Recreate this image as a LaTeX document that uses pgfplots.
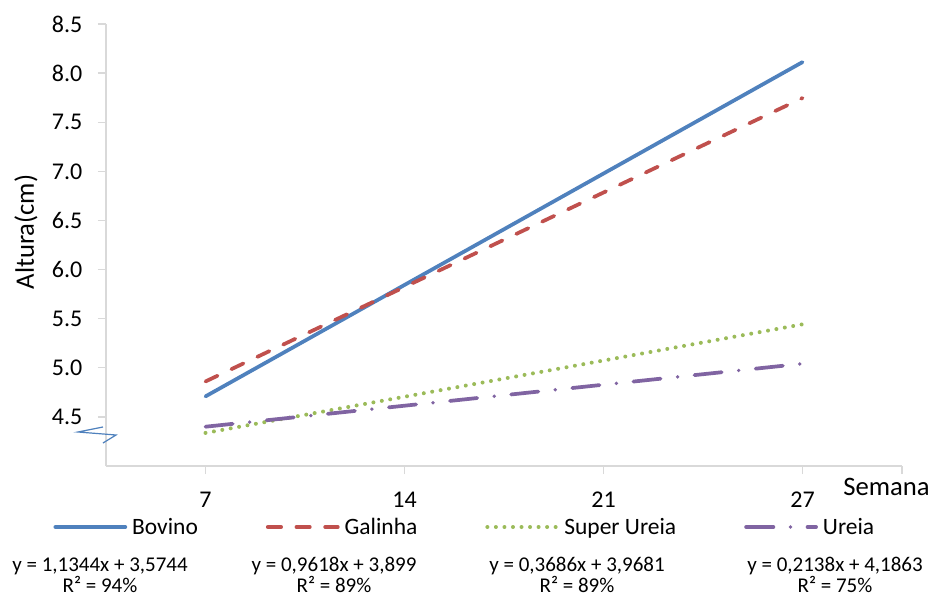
\documentclass[border=0pt]{standalone}
\usepackage{fontspec}
\setmainfont{Carlito}
\usepackage{pgfplots}
\pgfplotsset{compat=1.18}
\definecolor{cBov}{HTML}{4F81BD}
\definecolor{cGal}{HTML}{C0504D}
\definecolor{cSup}{HTML}{9BBB59}
\definecolor{cUre}{HTML}{8064A2}
\definecolor{cAx}{HTML}{D9D9D9}
\begin{document}
\begin{tikzpicture}[font=\fontsize{15.75}{19}\selectfont]
\begin{axis}[
  at={(79.5pt,-349.5pt)}, anchor=south west,
  scale only axis, width=597pt, height=331.5pt,
  xmin=0.5, xmax=4.5, ymin=4.0, ymax=8.5,
  axis x line=bottom, axis y line=left,
  axis line style={-, draw=cAx, line width=1pt},
  tick style={draw=cAx, line width=1pt},
  tick align=outside, major tick length=6pt,
  xtick={1,2,3,4}, xticklabels={7,14,21,27},
  extra x ticks={4.5}, extra x tick labels={},
  ytick={4.5,5,5.5,6,6.5,7,7.5,8,8.5},
  tick label style={font=\fontsize{18}{21}\selectfont},
  xticklabel style={yshift=-10pt},
  yticklabel style={xshift=-8.25pt, /pgf/number format/.cd, fixed, fixed zerofill, precision=1},
  /pgf/number format/assume math mode=true,
  label style={font=\fontsize{20}{24}\selectfont},
  xlabel={Semana},
  xlabel style={at={(axis description cs:0.9259,-0.0656)}, anchor=base west, inner sep=0pt},
  ylabel={Altura(cm)},
  ylabel style={at={(axis description cs:-0.1005,0.5294)}, anchor=center, inner sep=0pt},
  legend columns=4,
  legend style={at={(axis description cs:-0.066,-0.138)}, anchor=west, draw=none, fill=none,
    inner sep=0pt, outer sep=0pt, nodes={inner sep=0pt},
    font=\fontsize{17.6}{21}\selectfont,
    /tikz/every even column/.append style={column sep=51pt},
    /tikz/every odd column/.append style={column sep=3.75pt}},
  legend image code/.code={\draw[#1] (0pt,0pt) -- (52.5pt,0pt);},
]
\addplot[cBov, line width=2.8pt, line cap=round] coordinates {(1,4.7088) (2,5.8432) (3,6.9776) (4,8.1120)};
\addlegendentry{Bovino}
\addplot[cGal, line width=2.8pt, line cap=round, dash pattern=on 10pt off 11.5pt] coordinates {(1,4.8608) (2,5.8226) (3,6.7844) (4,7.7462)};
\addlegendentry{Galinha}
\addplot[cSup, line width=3pt, line cap=round, dash pattern=on 0pt off 6.4pt] coordinates {(1,4.3367) (2,4.7053) (3,5.0739) (4,5.4425)};
\addlegendentry{Super Ureia}
\addplot[cUre, line width=2.8pt, line cap=round, dash pattern=on 20.5pt off 12.8pt on 0pt off 12.8pt] coordinates {(1,4.4001) (2,4.6139) (3,4.8277) (4,5.0415)};
\addlegendentry{Ureia}
\end{axis}
\begin{scope}[x=0.75pt,y=-0.75pt]
\draw[cBov, line width=0.9pt, line join=miter] (103,427) -- (78,432) -- (116,435) -- (103,443);
\node[anchor=base, inner sep=0pt] at (100,571) {y = 1,1344x + 3,5744};
\node[anchor=base, inner sep=0pt] at (100,592) {R² = 94\%};
\node[anchor=base, inner sep=0pt] at (334,571) {y = 0,9618x + 3,899};
\node[anchor=base, inner sep=0pt] at (334,592) {R² = 89\%};
\node[anchor=base, inner sep=0pt] at (577,571) {y = 0,3686x + 3,9681};
\node[anchor=base, inner sep=0pt] at (577,592) {R² = 89\%};
\node[anchor=base, inner sep=0pt] at (835,571) {y = 0,2138x + 4,1863};
\node[anchor=base, inner sep=0pt] at (835,592) {R² = 75\%};
\pgfresetboundingbox
\useasboundingbox (0,0) rectangle (930,596);
\end{scope}
\end{tikzpicture}
\end{document}
